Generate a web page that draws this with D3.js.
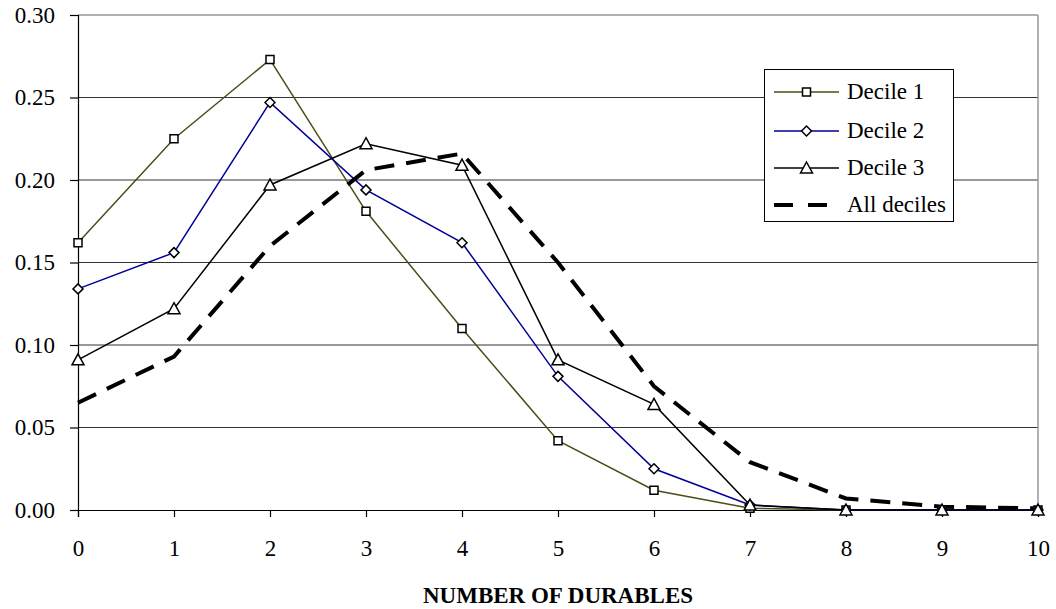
<!DOCTYPE html>
<html>
<head>
<meta charset="utf-8">
<script src="https://cdn.jsdelivr.net/npm/d3@7"></script>
<style>
  html, body { margin: 0; padding: 0; background: #fff; }
  svg { display: block; }
  text { font-family: "Liberation Serif", "DejaVu Serif", serif; fill: #000; }
</style>
</head>
<body>
<svg id="chart" width="1056" height="609"></svg>
<script>
const categories = [0, 1, 2, 3, 4, 5, 6, 7, 8, 9, 10];
const decile1 = [0.162, 0.225, 0.273, 0.181, 0.110, 0.042, 0.012, 0.001, 0.000, 0.000, 0.000];
const decile2 = [0.134, 0.156, 0.247, 0.194, 0.162, 0.081, 0.025, 0.003, 0.000, 0.000, 0.000];
const decile3 = [0.091, 0.122, 0.197, 0.222, 0.209, 0.091, 0.064, 0.003, 0.000, 0.000, 0.000];
const allDeciles = [0.065, 0.093, 0.160, 0.206, 0.216, 0.150, 0.075, 0.029, 0.007, 0.002, 0.001];
const yTicks = [0, 0.05, 0.10, 0.15, 0.20, 0.25, 0.30];
const seriesNames = ["Decile 1", "Decile 2", "Decile 3", "All deciles"];
const xTitle = "NUMBER OF DURABLES";

const series = [
  { name: seriesNames[0], values: decile1, color: "#4d4d1a", width: 1.5, marker: "square" },
  { name: seriesNames[1], values: decile2, color: "#000099", width: 1.5, marker: "diamond" },
  { name: seriesNames[2], values: decile3, color: "#000000", width: 1.5, marker: "triangle" },
  { name: seriesNames[3], values: allDeciles, color: "#000000", width: 4, marker: null, dash: "20,12" }
];

const FONT = '"Liberation Serif", "DejaVu Serif", serif';
const svg = d3.select("#chart");
const L = 78, R = 1038, T = 15, B = 510;
const x = d3.scaleLinear().domain([0, 10]).range([L, R]);
const y = d3.scaleLinear().domain([0, 0.30]).range([B, T]);

// gridlines
svg.append("g").selectAll("line").data(yTicks.filter(d => d > 0 && d < 0.3)).join("line")
  .attr("x1", L).attr("x2", R).attr("y1", d => y(d)).attr("y2", d => y(d))
  .attr("stroke", "#333").attr("stroke-width", 1);

// plot border top/right (gray)
svg.append("line").attr("x1", L).attr("x2", R).attr("y1", T).attr("y2", T)
  .attr("stroke", "#999").attr("stroke-width", 1.5);
svg.append("line").attr("x1", R).attr("x2", R).attr("y1", T).attr("y2", B)
  .attr("stroke", "#999").attr("stroke-width", 1.5);

// y axis
const yAxis = d3.axisLeft(y).tickValues(yTicks).tickFormat(d3.format(".2f")).tickSize(8).tickPadding(15);
const gy = svg.append("g").attr("transform", `translate(${L},0)`).call(yAxis).attr("font-family", FONT);
gy.select(".domain").attr("stroke", "#000").attr("stroke-width", 1.2);
gy.selectAll(".tick line").attr("stroke", "#000").attr("stroke-width", 1.2);
gy.selectAll(".tick text").style("font-family", FONT).style("font-size", "23px").attr("fill", "#000");

// x axis
const xAxis = d3.axisBottom(x).tickValues(categories).tickFormat(d3.format("d")).tickSize(7).tickPadding(23);
const gx = svg.append("g").attr("transform", `translate(0,${B})`).call(xAxis).attr("font-family", FONT);
gx.select(".domain").attr("stroke", "#000").attr("stroke-width", 1.2);
gx.selectAll(".tick line").attr("stroke", "#000").attr("stroke-width", 1.2);
gx.selectAll(".tick text").style("font-family", FONT).style("font-size", "23px").attr("fill", "#000");

// x title
svg.append("text").attr("x", (L + R) / 2).attr("y", 603).attr("text-anchor", "middle")
  .style("font-family", FONT).style("font-size", "23px").style("font-weight", "bold").text(xTitle);

// lines
const line = d3.line().x((d, i) => x(categories[i])).y(d => y(d));
series.forEach(s => {
  svg.append("path").datum(s.values).attr("d", line)
    .attr("fill", "none").attr("stroke", s.color).attr("stroke-width", s.width)
    .attr("stroke-dasharray", s.dash || null).attr("stroke-linejoin", "miter");
});

function markerPath(type) {
  if (type === "square") return d3.symbol().type(d3.symbolSquare).size(64)();
  if (type === "diamond") return "M0,-5L5,0L0,5L-5,0Z";
  if (type === "triangle") return "M0,-6L6,5L-6,5Z";
  return null;
}

series.filter(s => s.marker).forEach(s => {
  svg.append("g").selectAll("path").data(s.values).join("path")
    .attr("transform", (d, i) => `translate(${x(categories[i])},${y(d)})`)
    .attr("d", markerPath(s.marker))
    .attr("fill", "#fff").attr("stroke", "#000").attr("stroke-width", 1.5);
});

// legend
const lg = svg.append("g");
lg.append("rect").attr("x", 764.5).attr("y", 69.5).attr("width", 189).attr("height", 152)
  .attr("fill", "#fff").attr("stroke", "#000").attr("stroke-width", 1);
const legY = [92, 131, 168, 205];
series.forEach((s, i) => {
  const yy = legY[i];
  lg.append("line").attr("x1", 774).attr("x2", 839).attr("y1", yy).attr("y2", yy)
    .attr("stroke", s.color).attr("stroke-width", s.width)
    .attr("stroke-dasharray", s.dash ? "19,15" : null);
  if (s.marker) {
    lg.append("path").attr("transform", `translate(806.5,${yy})`).attr("d", markerPath(s.marker))
      .attr("fill", "#fff").attr("stroke", "#000").attr("stroke-width", 1.5);
  }
  lg.append("text").attr("x", 847).attr("y", yy + 7).style("font-family", FONT).style("font-size", "23px").text(s.name);
});
</script>
</body>
</html>
